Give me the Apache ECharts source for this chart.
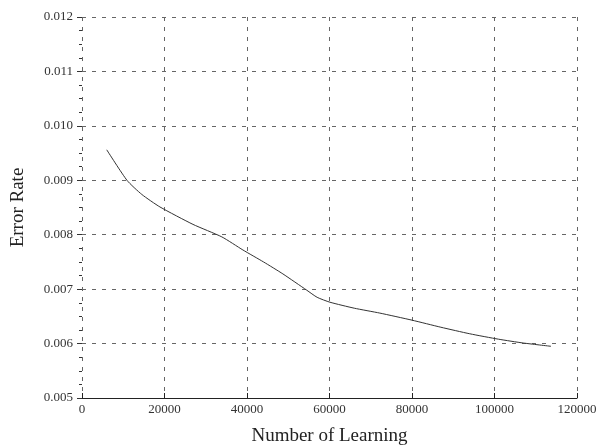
<!DOCTYPE html>
<html>
<head>
<meta charset="utf-8">
<script src="https://cdn.jsdelivr.net/npm/echarts@6/dist/echarts.min.js"></script>
<style>html,body{margin:0;padding:0;background:#fff}#c{width:600px;height:445px}</style>
</head>
<body>
<div id="c"></div>
<script>
const learningSteps = [6000, 10900, 14500, 18900, 26900, 33900, 39000, 44000, 48700, 54500, 57000, 60100, 66000, 72200, 80000, 87000, 94000, 101000, 107000, 113700];
const errorRate = [0.00956, 0.00900, 0.00874, 0.00851, 0.00819, 0.00796, 0.00772, 0.00750, 0.00728, 0.00698, 0.00685, 0.00676, 0.00665, 0.00656, 0.00643, 0.00630, 0.00618, 0.00608, 0.00601, 0.00595];
const xTicks = [0, 20000, 40000, 60000, 80000, 100000, 120000];
const yTicks = [0.005, 0.006, 0.007, 0.008, 0.009, 0.010, 0.011, 0.012];

const font = '"Liberation Serif", "DejaVu Serif", serif';
const chart = echarts.init(document.getElementById('c'));
chart.setOption({
  animation: false,
  backgroundColor: '#fff',
  grid: { left: 82, right: 23, top: 17, bottom: 47, containLabel: false, outerBoundsMode: 'none' },
  xAxis: {
    type: 'value',
    min: xTicks[0], max: xTicks[xTicks.length - 1], interval: 20000,
    name: 'Number of Learning', nameLocation: 'middle', nameGap: 29,
    nameTextStyle: { fontFamily: font, fontSize: 19, color: '#222' },
    axisLine: { show: true, lineStyle: { color: '#222', width: 1 } },
    axisTick: { show: true, inside: true, length: 5, lineStyle: { color: '#222' } },
    axisLabel: { fontFamily: font, fontSize: 13, color: '#333', margin: 5,
      formatter: v => String(v) },
    splitLine: { show: true, lineStyle: { color: '#666', type: [4, 6], width: 1 } }
  },
  yAxis: {
    type: 'value',
    min: 0.005, max: 0.012, interval: 0.001,
    name: 'Error Rate', nameLocation: 'middle', nameGap: 54,
    nameTextStyle: { fontFamily: font, fontSize: 19, color: '#222' },
    axisLine: { show: false },
    axisTick: { show: true, inside: false, length: 5, lineStyle: { color: '#333' } },
    minorTick: { show: true, splitNumber: 4, length: 3, lineStyle: { color: '#333' } },
    axisLabel: { fontFamily: font, fontSize: 13, color: '#333', margin: 9,
      formatter: v => v.toFixed(3) },
    splitLine: { show: true, lineStyle: { color: '#666', type: [4, 6], width: 1 } }
  },
  series: [{
    type: 'line',
    data: learningSteps.map((x, i) => [x, errorRate[i]]),
    showSymbol: false,
    smooth: 0.2,
    lineStyle: { color: '#333', width: 1 }
  }]
});
</script>
</body>
</html>
